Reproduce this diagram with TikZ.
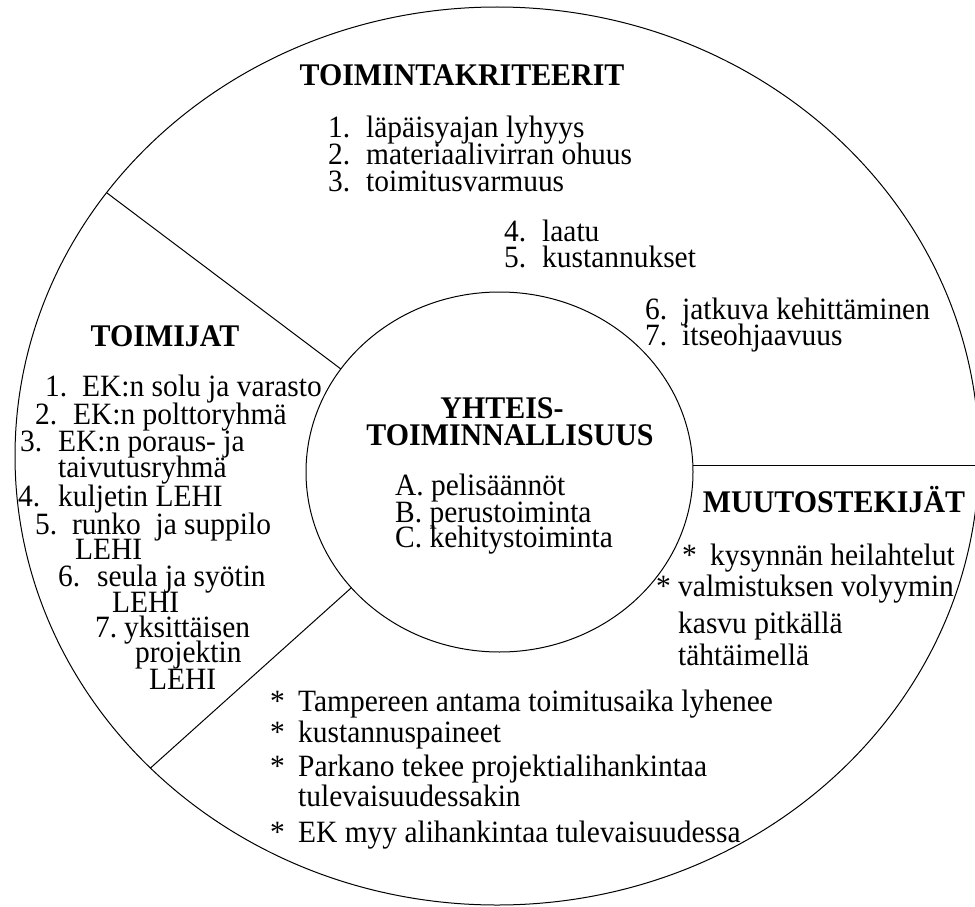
\documentclass[tikz,border=0pt]{standalone}
\usepackage{fontspec}
\setmainfont{Liberation Serif}
% slightly condensed serif so that letters are a little taller for their width
\newfontfamily\diagserif[FakeStretch=0.95]{Liberation Serif}
\usetikzlibrary{shapes.geometric}

\tikzset{
  region/.style={ellipse, draw, line width=1pt, inner sep=0pt, outer sep=0pt},
  divider/.style={line width=1pt},
  heading/.style={font=\diagserif\fontsize{31.5}{30}\selectfont\bfseries, inner sep=0pt, anchor=base},
  entry/.style={font=\diagserif\fontsize{31}{27}\selectfont, inner sep=0pt, anchor=base west},
}
% fixed-width label in front of a list entry
\newcommand{\lbl}[2]{\makebox[#1pt][l]{#2}}

\begin{document}
\begin{tikzpicture}[x=1pt, y=-1pt]
\useasboundingbox (0,0) rectangle (975,907);
\clip (0,0) rectangle (975,907);

% outer and inner rings
\node[region, minimum width=964pt, minimum height=898pt] (outer) at (497,456) {};
\node[region, minimum width=387pt, minimum height=360pt] (inner) at (499.5,472) {};

% sector dividers
\draw[divider] (outer.146.7) -- (inner.147.2);
\draw[divider] (outer.222.7) -- (inner.218.9);
\coordinate (rightend) at (inner.2.7 -| outer.east);
\draw[divider] (inner.2.7) -- (rightend);

% TOIMINTAKRITEERIT
\node[heading] (thead) at (462,85) {TOIMINTAKRITEERIT};
\node[entry] (t1) at (328,137) {\lbl{38}{1.}läpäisyajan lyhyys};
\node[entry] (t2) at (328,164) {\lbl{38}{2.}materiaalivirran ohuus};
\node[entry] (t3) at (328,191) {\lbl{38}{3.}toimitusvarmuus};
\node[entry] (t4) at (504,241) {\lbl{38}{4.}laatu};
\node[entry] (t5) at (504,267) {\lbl{38}{5.}kustannukset};
\node[entry] (t6) at (645,319) {\lbl{37}{6.}jatkuva kehittäminen};
\node[entry] (t7) at (645,345) {\lbl{37}{7.}itseohjaavuus};

% TOIMIJAT
\node[heading] (ahead) at (165,346) {TOIMIJAT};
\node[entry] (a1) at (45,396) {\lbl{37}{1.}EK:n solu ja varasto};
\node[entry] (a2) at (35,424) {\lbl{38}{2.}EK:n polttoryhmä};
\node[entry] (a3) at (20,451) {\lbl{38}{3.}EK:n poraus- ja};
\node[entry] (a3b) at (58,477) {taivutusryhmä};
\node[entry] (a4) at (18,506) {\lbl{40}{4.}kuljetin LEHI};
\node[entry] (a5) at (35,534) {\lbl{37}{5.}runko\ \ ja suppilo};
\node[entry] (a5b) at (75,559) {LEHI};
\node[entry] (a6) at (58,586) {\lbl{39}{6.}seula ja syötin};
\node[entry] (a6b) at (112,612) {LEHI};
\node[entry] (a7) at (95,637) {\lbl{29}{7.}yksittäisen};
\node[entry] (a7b) at (135,662) {projektin};
\node[entry] (a7c) at (149,689) {LEHI};

% YHTEISTOIMINNALLISUUS
\node[heading] (chead1) at (502,418) {YHTEIS-};
\node[heading] (chead2) at (510,445) {TOIMINNALLISUUS};
\node[entry] (cA) at (395,495) {A. pelisäännöt};
\node[entry] (cB) at (395,522) {B. perustoiminta};
\node[entry] (cC) at (395,547) {C. kehitystoiminta};

% MUUTOSTEKIJÄT
\node[heading] (mhead) at (834,512) {MUUTOSTEKIJÄT};
\node[entry] (m1) at (682,565) {\lbl{28}{*}kysynnän heilahtelut};
\node[entry] (m2) at (656,596) {\lbl{22}{*}valmistuksen volyymin};
\node[entry] (m2b) at (678,633) {kasvu pitkällä};
\node[entry] (m2c) at (678,665) {tähtäimellä};

\node[entry] (b1) at (270,711) {\lbl{28}{*}Tampereen antama toimitusaika lyhenee};
\node[entry] (b2) at (270,742) {\lbl{28}{*}kustannuspaineet};
\node[entry] (b3) at (270,776) {\lbl{28}{*}Parkano tekee projektialihankintaa};
\node[entry] (b3b) at (298,806) {tulevaisuudessakin};
\node[entry] (b4) at (270,842) {\lbl{28}{*}EK myy alihankintaa tulevaisuudessa};
\end{tikzpicture}
\end{document}
